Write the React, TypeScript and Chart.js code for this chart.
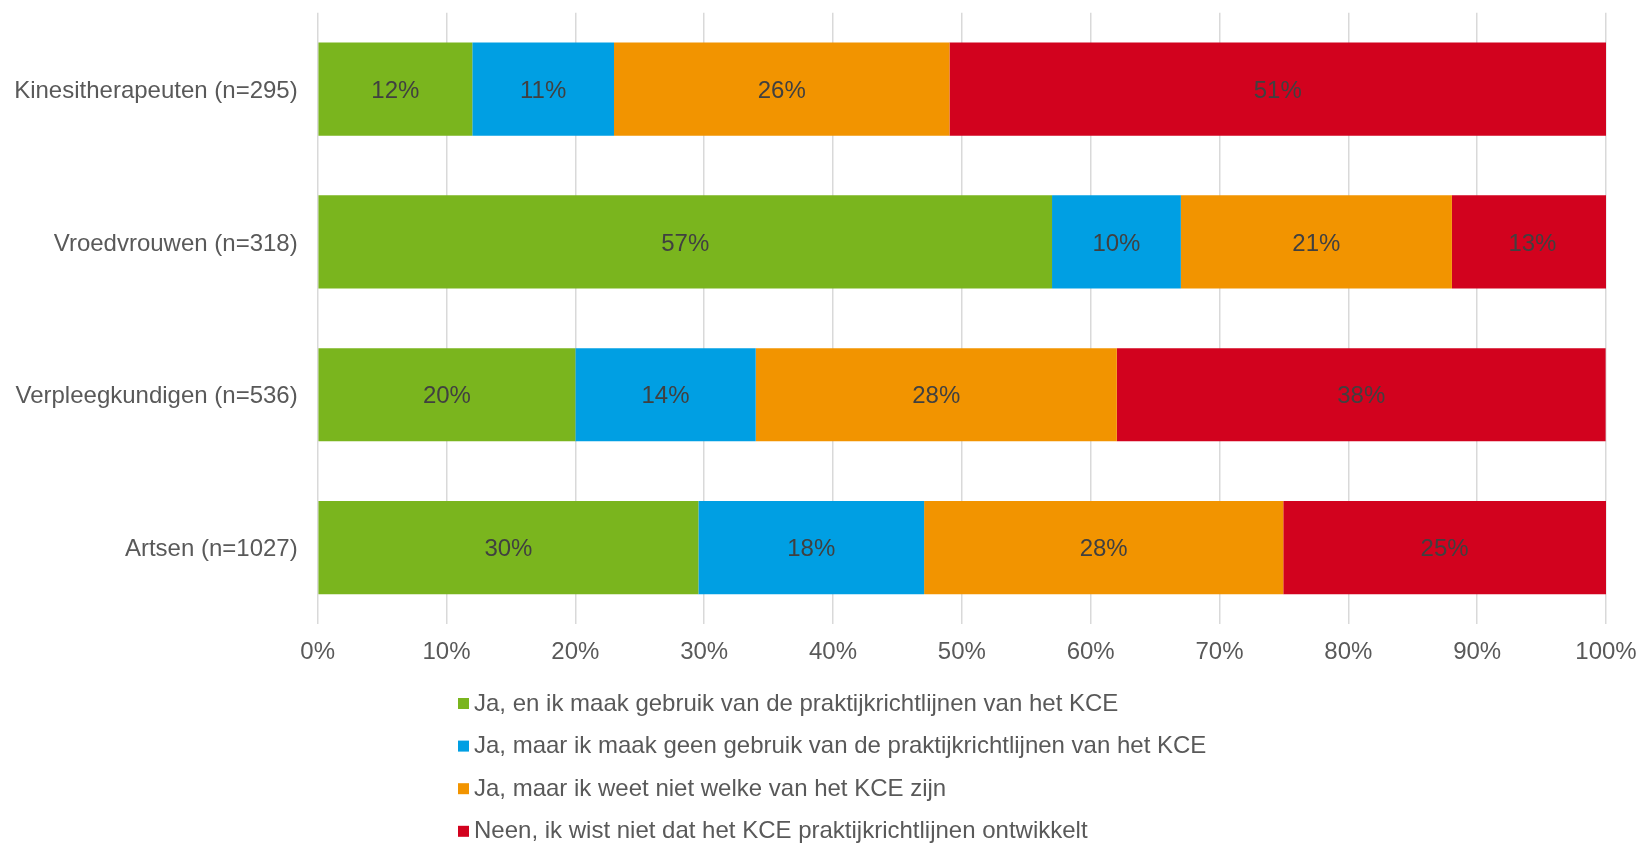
import React, { useEffect, useRef } from "react";
import { Chart, registerables } from "chart.js";

Chart.register(...registerables);

const categories = [
  "Kinesitherapeuten (n=295)",
  "Vroedvrouwen (n=318)",
  "Verpleegkundigen (n=536)",
  "Artsen (n=1027)",
];

const seriesNames = [
  "Ja, en ik maak gebruik van de praktijkrichtlijnen van het KCE",
  "Ja, maar ik maak geen gebruik van de praktijkrichtlijnen van het KCE",
  "Ja, maar ik weet niet welke van het KCE zijn",
  "Neen, ik wist niet dat het KCE praktijkrichtlijnen ontwikkelt",
];

const gebruikt = [12.0, 57.0, 20.0, 29.55];
const geenGebruik = [11.0, 10.0, 14.0, 17.52];
const weetNiet = [26.04, 21.04, 28.03, 27.88];
const wistNiet = [50.96, 12.5, 37.94, 25.05];

const seriesColors = ["#7AB51E", "#009FE3", "#F29400", "#D2021E"];

const xTicks = [0, 10, 20, 30, 40, 50, 60, 70, 80, 90, 100];

const FONT = "'Liberation Sans', Arial, sans-serif";

const valueLabels = {
  id: "valueLabels",
  afterDatasetsDraw(chart: any) {
    const ctx = chart.ctx;
    ctx.save();
    ctx.font = `24px ${FONT}`;
    ctx.fillStyle = "#404040";
    ctx.textAlign = "center";
    ctx.textBaseline = "middle";
    chart.data.datasets.forEach((ds: any, i: number) => {
      const meta = chart.getDatasetMeta(i);
      meta.data.forEach((el: any, j: number) => {
        const p = el.getProps(["x", "y", "base"], true);
        const cx = (p.x + p.base) / 2;
        ctx.fillText(Math.round(ds.data[j]) + "%", cx, p.y + 2);
      });
    });
    ctx.restore();
  },
};

const customLegend = {
  id: "customLegend",
  afterDraw(chart: any) {
    const ctx = chart.ctx;
    ctx.save();
    ctx.font = `24px ${FONT}`;
    ctx.textAlign = "left";
    ctx.textBaseline = "middle";
    const startY = 704;
    const step = 42.6;
    chart.data.datasets.forEach((ds: any, i: number) => {
      const y = startY + i * step;
      ctx.fillStyle = ds.backgroundColor;
      ctx.fillRect(458, y - 6, 11, 11);
      ctx.fillStyle = "#595959";
      ctx.fillText(ds.label, 474, y);
    });
    ctx.restore();
  },
};

export default function App() {
  const ref = useRef<HTMLCanvasElement>(null);

  useEffect(() => {
    if (!ref.current) return;
    const seriesData = [gebruikt, geenGebruik, weetNiet, wistNiet];
    const chart = new Chart(ref.current, {
      type: "bar",
      data: {
        labels: categories,
        datasets: seriesNames.map((name, i) => ({
          label: name,
          data: seriesData[i],
          backgroundColor: seriesColors[i],
          borderWidth: 0,
          categoryPercentage: 1,
          barPercentage: 0.61,
        })),
      },
      options: {
        indexAxis: "y",
        responsive: false,
        animation: false,
        layout: { padding: { top: 12.7, right: 34, bottom: 170, left: 0 } },
        plugins: {
          legend: { display: false },
          tooltip: { enabled: false },
        },
        scales: {
          x: {
            stacked: true,
            min: 0,
            max: 100,
            afterBuildTicks(scale: any) {
              scale.ticks = xTicks.map((v) => ({ value: v }));
            },
            afterFit(scale: any) {
              scale.height = 50;
              scale.paddingLeft = 0;
              scale.paddingRight = 0;
            },
            ticks: {
              callback: (v: any) => v + "%",
              color: "#595959",
              font: { family: FONT, size: 24 },
              padding: 14,
              maxRotation: 0,
            },
            grid: {
              color: "#d9d9d9",
              lineWidth: 1.5,
              drawTicks: false,
            },
            border: { display: false },
          },
          y: {
            stacked: true,
            afterFit(scale: any) {
              scale.width = 317.7;
              scale.paddingTop = 0;
              scale.paddingBottom = 0;
            },
            ticks: {
              color: "#595959",
              font: { family: FONT, size: 24 },
              padding: 20,
              labelOffset: 2,
            },
            grid: { display: false, drawTicks: false },
            border: { display: false },
          },
        },
      },
      plugins: [valueLabels, customLegend],
    });
    return () => chart.destroy();
  }, []);

  return (
    <div
      style={{
        position: "absolute",
        left: 0,
        top: 0,
        width: 1640,
        height: 844,
        background: "#fff",
      }}
    >
      <canvas ref={ref} width={1640} height={844} style={{ width: 1640, height: 844 }} />
    </div>
  );
}
